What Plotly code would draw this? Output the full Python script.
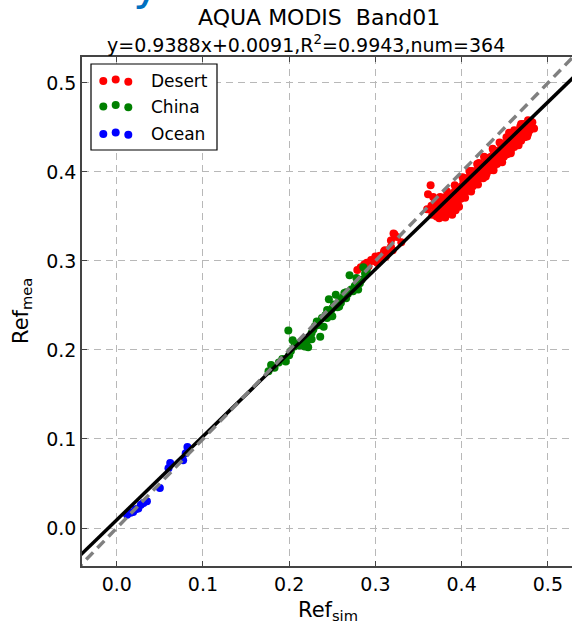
import plotly.graph_objects as go

# ---------------- data ----------------
desert_x = [0.279,0.283,0.287,0.290,0.292,0.295,0.298,0.300,0.302,0.305,0.307,0.310,0.312,0.315,0.318,0.320,0.322,0.325,0.318,0.330,0.311,0.321,
            0.360,0.361,0.364,0.366,0.367,0.368,0.369,0.370,0.371,0.372,0.373,0.374,0.375,0.376,0.377,0.378,0.379,0.380,0.381,0.382,0.383,0.384,
            0.385,0.386,0.387,0.388,0.389,0.390,0.391,0.392,0.393,0.394,0.395,0.396,0.397,0.398,0.399,0.400,0.401,0.402,0.403,0.404,0.405,0.406,
            0.407,0.408,0.409,0.410,0.411,0.412,0.413,0.414,0.415,0.416,0.417,0.418,0.419,0.420,0.421,0.422,0.423,0.424,0.425,0.426,0.427,0.428,
            0.429,0.430,0.431,0.432,0.433,0.434,0.435,0.436,0.437,0.438,0.439,0.440,0.441,0.442,0.443,0.444,0.445,0.446,0.447,0.448,0.449,0.450,
            0.451,0.452,0.453,0.454,0.455,0.456,0.457,0.458,0.459,0.460,0.461,0.462,0.463,0.464,0.465,0.466,0.467,0.468,0.469,0.470,0.471,0.472,
            0.473,0.474,0.475,0.476,0.477,0.478,0.479,0.480,0.482,0.484,
            0.372,0.380,0.390,0.395,0.405,0.410,0.415,0.420,0.425,0.430,0.435,0.440,0.445,0.450,0.455,0.460,0.465,0.470,0.475,0.380,0.385,0.375,
            0.398,0.403,0.412,0.428,0.437,0.446,0.455,0.463,0.472,0.468,0.477,0.455,0.480,0.420,
            0.383,0.392,0.401,0.409,0.418,0.426,0.436,0.444,0.452,0.461,0.469,0.374,0.381,0.388,0.396,0.404,0.411,0.419,0.428,0.437,0.447,
            0.457,0.466,0.476,0.365,0.369]
desert_y = [0.290,0.293,0.296,0.298,0.294,0.301,0.300,0.305,0.298,0.306,0.303,0.311,0.305,0.312,0.316,0.312,0.330,0.327,0.323,0.321,0.312,0.331,
            0.358,0.375,0.385,0.352,0.372,0.362,0.356,0.366,0.350,0.360,0.354,0.368,0.357,0.362,0.350,0.371,0.358,0.364,0.353,0.367,0.360,0.373,
            0.356,0.366,0.361,0.375,0.352,0.369,0.364,0.378,0.357,0.372,0.366,0.381,0.361,0.375,0.370,0.384,0.378,0.390,0.374,0.386,0.380,0.393,
            0.383,0.389,0.379,0.396,0.386,0.392,0.384,0.399,0.389,0.395,0.387,0.402,0.392,0.398,0.395,0.406,0.397,0.401,0.393,0.409,0.400,0.405,
            0.398,0.413,0.404,0.410,0.402,0.417,0.408,0.413,0.406,0.420,0.411,0.417,0.409,0.424,0.415,0.421,0.413,0.428,0.419,0.424,0.417,0.431,
            0.423,0.428,0.420,0.435,0.426,0.432,0.424,0.438,0.430,0.436,0.428,0.442,0.434,0.439,0.431,0.445,0.437,0.443,0.435,0.448,0.441,0.446,
            0.439,0.452,0.444,0.449,0.443,0.455,0.447,0.452,0.456,0.449,
            0.364,0.358,0.372,0.373,0.386,0.388,0.392,0.401,0.403,0.407,0.410,0.415,0.420,0.425,0.430,0.433,0.438,0.443,0.447,0.370,0.364,0.372,
            0.381,0.393,0.401,0.416,0.424,0.432,0.440,0.446,0.454,0.451,0.458,0.444,0.457,0.410,
            0.378,0.385,0.394,0.401,0.409,0.417,0.426,0.433,0.439,0.447,0.454,0.348,0.349,0.357,0.362,0.371,0.378,0.386,0.395,0.402,0.411,
            0.421,0.430,0.440,0.362,0.370]

china_x = [0.176,0.179,0.183,0.188,0.192,0.196,0.199,0.200,0.202,0.204,0.206,0.209,0.212,0.215,0.218,0.220,0.222,0.224,0.226,0.228,0.230,
           0.232,0.234,0.236,0.238,0.240,0.242,0.244,0.246,0.248,0.250,0.252,0.254,0.256,0.258,0.260,0.262,0.264,0.266,0.268,0.270,0.272,
           0.274,0.276,0.278,0.280,0.282,0.284,0.286,0.288,0.290,0.244,0.250,0.258,0.266,0.226]
china_y = [0.176,0.183,0.180,0.186,0.190,0.187,0.222,0.194,0.199,0.211,0.204,0.207,0.205,0.209,0.204,0.208,0.203,0.212,0.219,0.223,0.227,
           0.232,0.228,0.215,0.236,0.226,0.239,0.245,0.257,0.243,0.247,0.251,0.262,0.248,0.255,0.253,0.259,0.264,0.258,0.263,0.284,0.268,
           0.266,0.272,0.281,0.268,0.275,0.279,0.293,0.286,0.289,0.236,0.238,0.249,0.265,0.212]

ocean_x = [0.012,0.016,0.019,0.022,0.025,0.028,0.031,0.035,0.050,0.060,0.062,0.077,0.080,0.082]
ocean_y = [0.015,0.017,0.018,0.021,0.022,0.026,0.028,0.030,0.045,0.067,0.073,0.076,0.084,0.091]

slope = 0.9388
intercept = 0.0091
line_x = [-0.1, 0.6]

xtick_vals = [0.0, 0.1, 0.2, 0.3, 0.4, 0.5]
ytick_vals = [0.0, 0.1, 0.2, 0.3, 0.4, 0.5]

legend_names = ["Desert", "China", "Ocean"]
colors = ["#ff0000", "#008000", "#0000ff"]

FONT = "DejaVu Sans"

# ---------------- figure ----------------
fig = go.Figure()
for xs, ys, c, n in [(desert_x, desert_y, colors[0], "Desert"),
                     (china_x, china_y, colors[1], "China"),
                     (ocean_x, ocean_y, colors[2], "Ocean")]:
    fig.add_trace(go.Scatter(x=xs, y=ys, mode="markers", name=n,
                             marker=dict(color=c, size=8, line=dict(width=0)),
                             showlegend=False))

fig.add_trace(go.Scatter(x=line_x, y=[slope * v + intercept for v in line_x], mode="lines",
                         line=dict(color="black", width=3.5), showlegend=False))
fig.add_trace(go.Scatter(x=line_x, y=line_x, mode="lines",
                         line=dict(color="#808080", width=3.5, dash="10px,6px"), showlegend=False))

# plot-area pixel box
L, R, T, B = 82, 572, 57, 566


def px(x):
    return (x - L) / (R - L)


def py(y):
    return (B - y) / (B - T)


row_y = [81, 106.5, 134]
dot_x = [103.3, 115.7, 128.3]
dot_dy = [0, -1.5, 0.7]
rad = 4.0

shapes = [dict(type="rect", xref="paper", yref="paper", x0=px(91), x1=px(217), y0=py(150), y1=py(64),
               line=dict(color="black", width=1.2), fillcolor="white", layer="above")]
for i in range(3):
    for j in range(3):
        cx, cy = dot_x[j], row_y[i] + dot_dy[j]
        shapes.append(dict(type="circle", xref="paper", yref="paper",
                           x0=px(cx - rad), x1=px(cx + rad), y0=py(cy + rad), y1=py(cy - rad),
                           line=dict(width=0), fillcolor=colors[i], layer="above"))

annotations = []
for i, n in enumerate(legend_names):
    annotations.append(dict(x=px(149), y=py(row_y[i]), xref="paper", yref="paper", text=n, showarrow=False,
                            xanchor="left", yanchor="middle", font=dict(family=FONT, size=17, color="black")))

annotations += [
    dict(x=px(319), y=py(17), xref="paper", yref="paper", text="AQUA MODIS\u00a0\u00a0Band01", showarrow=False,
         xanchor="center", yanchor="middle", font=dict(family=FONT, size=22, color="black")),
    dict(x=px(306), y=py(44), xref="paper", yref="paper", text="y=0.9388x+0.0091,R<sup>2</sup>=0.9943,num=364",
         showarrow=False, xanchor="center", yanchor="middle", font=dict(family=FONT, size=19, color="black")),
    dict(x=px(328), y=py(611), xref="paper", yref="paper", text="Ref<sub>sim</sub>", showarrow=False,
         xanchor="center", yanchor="middle", font=dict(family=FONT, size=21, color="black")),
    dict(x=px(22), y=py(311), xref="paper", yref="paper", text="Ref<sub>mea</sub>", showarrow=False, textangle=-90,
         xanchor="center", yanchor="middle", font=dict(family=FONT, size=21, color="black")),
    dict(x=px(146), y=py(12), xref="paper", yref="paper", text="y", showarrow=False,
         xanchor="center", yanchor="bottom", font=dict(family=FONT, size=46, color="#0070c0")),
]

grid = dict(showgrid=True, gridcolor="#b8b8b8", gridwidth=1, griddash="7px,5px")
fig.update_layout(
    width=572, height=624,
    margin=dict(l=L, r=0, t=T, b=624 - B, pad=0),
    paper_bgcolor="white", plot_bgcolor="white",
    font=dict(family=FONT, size=18, color="black"),
    xaxis=dict(range=[-0.0403, 0.528], tickvals=xtick_vals, tickformat=".1f", ticks="inside", ticklen=5,
               tickcolor="#444", showline=True, linecolor="#444", linewidth=1.5, mirror="ticks",
               zeroline=False, tickfont=dict(size=19), **grid),
    yaxis=dict(range=[-0.0427, 0.5292], tickvals=ytick_vals, tickformat=".1f", ticks="inside", ticklen=5,
               tickcolor="#444", showline=True, linecolor="#444", linewidth=1.5, mirror=False,
               zeroline=False, tickfont=dict(size=19), **grid),
    annotations=annotations, shapes=shapes,
)

fig.write_html("out.html")
